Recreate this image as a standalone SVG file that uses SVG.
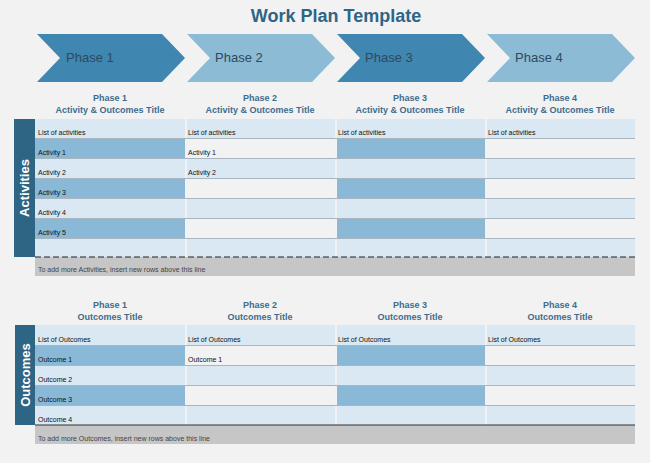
<svg xmlns="http://www.w3.org/2000/svg" width="650" height="463" viewBox="0 0 650 463">
<style>
text{font-family:"Liberation Sans",Arial,sans-serif}
.t{font-size:18px;font-weight:bold;fill:#2e6585}
.ph{font-size:13px;fill:#2d4a5e}
.h{font-size:9px;font-weight:bold;fill:#3d6d8e;text-anchor:middle}
.c{font-size:7px;fill:#111}
.n{font-size:7px;fill:#444}
.L{fill:#d9e8f2}.D{fill:#89b9d6}.W{fill:#f2f2f2}
.ln{stroke:#a9b6c0;stroke-width:1}
.tab{fill:#2e6585}
.side{font-size:13px;font-weight:bold;fill:#fff;text-anchor:middle}
</style>
<rect width="650" height="463" fill="#f2f2f2"/>
<text class="t" x="336" y="22" text-anchor="middle">Work Plan Template</text>
<g id="chevrons">
<g id="p1"><polygon points="37,34 162,34 185,58 162,82 37,82 60,58" fill="#3f86b0"/><text class="ph" x="66" y="62">Phase 1</text></g>
<g id="p2"><polygon points="187,34 312,34 335,58 312,82 187,82 210,58" fill="#8cbbd6"/><text class="ph" x="215" y="62">Phase 2</text></g>
<g id="p3"><polygon points="337,34 462,34 485,58 462,82 337,82 360,58" fill="#3f86b0"/><text class="ph" x="365" y="62">Phase 3</text></g>
<g id="p4"><polygon points="487,34 612,34 635,58 612,82 487,82 510,58" fill="#8cbbd6"/><text class="ph" x="515" y="62">Phase 4</text></g>
</g>
<g id="activities">
<text class="h" x="110" y="101">Phase 1</text><text class="h" x="110" y="113">Activity &amp; Outcomes Title</text>
<text class="h" x="260" y="101">Phase 2</text><text class="h" x="260" y="113">Activity &amp; Outcomes Title</text>
<text class="h" x="410" y="101">Phase 3</text><text class="h" x="410" y="113">Activity &amp; Outcomes Title</text>
<text class="h" x="560" y="101">Phase 4</text><text class="h" x="560" y="113">Activity &amp; Outcomes Title</text>
<rect class="tab" x="14" y="119" width="21" height="138"/>
<text class="side" transform="translate(29,188) rotate(-90)">Activities</text>
<!-- col1 -->
<rect class="L" x="35" y="119" width="150" height="138"/>
<rect class="D" x="35" y="139" width="150" height="19"/><rect class="D" x="35" y="178" width="150" height="20"/><rect class="D" x="35" y="218" width="150" height="20"/>
<rect class="L" x="187" y="119" width="148" height="138"/>
<rect class="W" x="187" y="139" width="148" height="19"/><rect class="W" x="187" y="178" width="148" height="20"/><rect class="W" x="187" y="218" width="148" height="20"/>
<rect class="L" x="337" y="119" width="148" height="138"/>
<rect class="D" x="337" y="139" width="148" height="19"/><rect class="D" x="337" y="178" width="148" height="20"/><rect class="D" x="337" y="218" width="148" height="20"/>
<rect class="L" x="487" y="119" width="148" height="138"/>
<rect class="W" x="487" y="139" width="148" height="19"/><rect class="W" x="487" y="178" width="148" height="20"/><rect class="W" x="487" y="218" width="148" height="20"/>
<g class="ln">
<line x1="35" y1="138.5" x2="635" y2="138.5"/><line x1="35" y1="158.5" x2="635" y2="158.5"/><line x1="35" y1="178.5" x2="635" y2="178.5"/><line x1="35" y1="198.5" x2="635" y2="198.5"/><line x1="35" y1="218.5" x2="635" y2="218.5"/><line x1="35" y1="238.5" x2="635" y2="238.5"/>
</g>
<rect x="35" y="257" width="600" height="19" fill="#c6c6c6"/>
<line x1="35" y1="257" x2="635" y2="257" stroke="#222" stroke-width="1.2" stroke-dasharray="6,3"/>
<text class="n" x="38" y="272">To add more Activities, insert new rows above this line</text>
<text class="c" x="38" y="135">List of activities</text><text class="c" x="188" y="135">List of activities</text><text class="c" x="338" y="135">List of activities</text><text class="c" x="488" y="135">List of activities</text>
<text class="c" x="38" y="155">Activity 1</text><text class="c" x="188" y="155">Activity 1</text>
<text class="c" x="38" y="175">Activity 2</text><text class="c" x="188" y="175">Activity 2</text>
<text class="c" x="38" y="195">Activity 3</text><text class="c" x="38" y="215">Activity 4</text><text class="c" x="38" y="235">Activity 5</text>
</g>
<g id="outcomes">
<text class="h" x="110" y="308">Phase 1</text><text class="h" x="110" y="320">Outcomes Title</text>
<text class="h" x="260" y="308">Phase 2</text><text class="h" x="260" y="320">Outcomes Title</text>
<text class="h" x="410" y="308">Phase 3</text><text class="h" x="410" y="320">Outcomes Title</text>
<text class="h" x="560" y="308">Phase 4</text><text class="h" x="560" y="320">Outcomes Title</text>
<rect class="tab" x="15" y="325" width="20" height="100"/>
<text class="side" transform="translate(30,375) rotate(-90)">Outcomes</text>
<rect class="L" x="35" y="325" width="150" height="100"/>
<rect class="D" x="35" y="345" width="150" height="20"/><rect class="D" x="35" y="385" width="150" height="20"/>
<rect class="L" x="187" y="325" width="148" height="100"/>
<rect class="W" x="187" y="345" width="148" height="20"/><rect class="W" x="187" y="385" width="148" height="20"/>
<rect class="L" x="337" y="325" width="148" height="100"/>
<rect class="D" x="337" y="345" width="148" height="20"/><rect class="D" x="337" y="385" width="148" height="20"/>
<rect class="L" x="487" y="325" width="148" height="100"/>
<rect class="W" x="487" y="345" width="148" height="20"/><rect class="W" x="487" y="385" width="148" height="20"/>
<g class="ln">
<line x1="35" y1="345.5" x2="635" y2="345.5"/><line x1="35" y1="365.5" x2="635" y2="365.5"/><line x1="35" y1="385.5" x2="635" y2="385.5"/><line x1="35" y1="405.5" x2="635" y2="405.5"/>
</g>
<rect x="35" y="425" width="600" height="19" fill="#c6c6c6"/>
<line x1="35" y1="425" x2="635" y2="425" stroke="#333" stroke-width="1"/>
<text class="n" x="38" y="441">To add more Outcomes, insert new rows above this line</text>
<text class="c" x="38" y="342">List of Outcomes</text><text class="c" x="188" y="342">List of Outcomes</text><text class="c" x="338" y="342">List of Outcomes</text><text class="c" x="488" y="342">List of Outcomes</text>
<text class="c" x="38" y="362">Outcome 1</text><text class="c" x="188" y="362">Outcome 1</text>
<text class="c" x="38" y="382">Outcome 2</text><text class="c" x="38" y="402">Outcome 3</text><text class="c" x="38" y="422">Outcome 4</text>
</g>
</svg>
